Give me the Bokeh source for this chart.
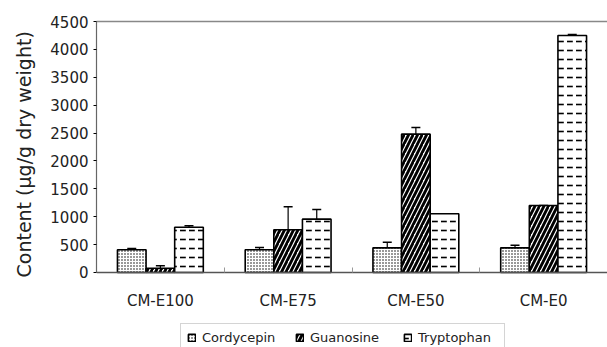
from bokeh.plotting import figure
from bokeh.models import (ColumnDataSource, Whisker, TeeHead, FixedTicker,
                          Range1d, Legend, LegendItem, LinearAxis, Title)
from bokeh.embed import file_html
from bokeh.resources import INLINE

# Samples and measured contents (ug/g dry weight)
samples = ["CM-E100", "CM-E75", "CM-E50", "CM-E0"]
series = ["Cordycepin", "Guanosine", "Tryptophan"]
cordycepin = [407, 407, 442, 442]
guanosine = [77, 765, 2480, 1201]
tryptophan = [812, 956, 1052, 4249]
cordycepin_sd = [23, 41, 102, 48]
guanosine_sd = [43, 413, 120, 0]
tryptophan_sd = [25, 174, 0, 18]
y_ticks = [0, 500, 1000, 1500, 2000, 2500, 3000, 3500, 4000, 4500]

FONT = "DejaVu Sans"

# The frame runs to the bottom of the page so the legend can sit under the
# sample names; the value axis is bounded to 0..4500 and the category axis
# is pinned at zero.
p = figure(width=607, height=347, output_backend="svg", toolbar_location=None,
           x_range=Range1d(0, 4), y_range=Range1d(-1345, 4500),
           min_border_left=96, min_border_right=0, min_border_top=21,
           min_border_bottom=0, x_axis_location=None)
p.xgrid.visible = False
p.ygrid.visible = False
p.outline_line_color = None

bar_w = 0.224
offsets = [-bar_w, 0.0, bar_w]
values = [cordycepin, guanosine, tryptophan]
errors = [cordycepin_sd, guanosine_sd, tryptophan_sd]
hatches = [
    dict(hatch_pattern="dot", hatch_scale=3, hatch_weight=1.0),
    dict(hatch_pattern="right_diagonal_line", hatch_scale=9, hatch_weight=2.8),
    dict(hatch_pattern="horizontal_dash", hatch_scale=9, hatch_weight=1.6),
]

renderers = []
for k, name in enumerate(series):
    xs = [i + 0.5 + offsets[k] for i in range(len(samples))]
    src = ColumnDataSource(dict(
        x=xs, top=values[k],
        upper=[v + e for v, e in zip(values[k], errors[k])],
    ))
    r = p.vbar(x="x", top="top", bottom=0, width=bar_w, source=src,
               fill_color="white", line_color="black", line_width=1.6,
               hatch_color="black", **hatches[k])
    renderers.append(r)
    w = Whisker(base="x", lower="top", upper="upper", source=src,
                line_color="black", line_width=1.2,
                upper_head=TeeHead(size=9, line_color="black", line_width=1.5),
                lower_head=None)
    p.add_layout(w)

# category axis: names at group centres, small inside ticks at group boundaries
xaxis = LinearAxis(fixed_location=0,
                   ticker=FixedTicker(ticks=[i + 0.5 for i in range(len(samples))],
                                      minor_ticks=list(range(1, len(samples)))))
xaxis.major_label_overrides = {i + 0.5: s for i, s in enumerate(samples)}
xaxis.major_tick_in = 0
xaxis.major_tick_out = 0
xaxis.minor_tick_in = 5
xaxis.minor_tick_out = 0
xaxis.minor_tick_line_color = "#999999"
xaxis.major_label_standoff = 20
xaxis.major_label_text_font = FONT
xaxis.major_label_text_font_size = "15px"
xaxis.major_label_text_color = "#222222"
xaxis.axis_line_color = "#555555"
xaxis.axis_line_width = 1.5
p.add_layout(xaxis, "below")

# top border of the plotting area
top_rule = LinearAxis(ticker=FixedTicker(ticks=[]), major_label_text_font_size="0px",
                      axis_line_color="#888888", axis_line_width=1.5,
                      major_tick_in=0, major_tick_out=0)
p.add_layout(top_rule, "above")

p.yaxis.ticker = FixedTicker(ticks=y_ticks, minor_ticks=[])
p.yaxis.bounds = (0, 4500)
p.yaxis.major_tick_in = 0
p.yaxis.major_tick_out = 3
p.yaxis.major_label_standoff = 5
p.yaxis.major_label_text_font = FONT
p.yaxis.major_label_text_font_size = "15px"
p.yaxis.major_label_text_color = "#222222"
p.yaxis.axis_line_color = "#666666"
p.yaxis.axis_line_width = 1.2

# value-axis title, centred on the 0..4500 span rather than the whole frame
ytitle = Title(text="Content (μg/g dry weight)", align="left", offset=70,
               vertical_align="top", standoff=22,
               text_font=FONT, text_font_size="19px", text_font_style="normal",
               text_color="#222222")
p.add_layout(ytitle, "left")

legend = Legend(items=[LegendItem(label=s, renderers=[r]) for s, r in zip(series, renderers)],
                orientation="horizontal", location=(84, -5), margin=0,
                label_text_font=FONT, label_text_font_size="13px",
                label_text_color="#222222", label_height=14, label_width=80,
                glyph_width=9, glyph_height=9, spacing=13, padding=6,
                label_standoff=6, border_line_color="#aaaaaa",
                border_line_width=1, background_fill_alpha=1)
p.add_layout(legend, "center")

open("out.html", "w").write(file_html(p, INLINE))
